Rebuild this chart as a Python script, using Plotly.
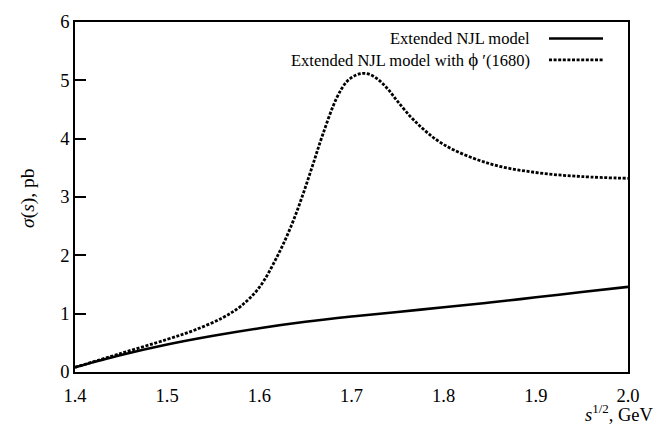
import plotly.graph_objects as go

# sqrt(s) grid in GeV and cross sections in pb
energy_base = [1.40, 1.45, 1.50, 1.55, 1.60, 1.65, 1.70, 1.75, 1.80, 1.85, 1.90, 1.95, 2.00]
sigma_base = [0.08, 0.29, 0.47, 0.62, 0.75, 0.86, 0.95, 1.03, 1.11, 1.19, 1.28, 1.37, 1.46]

energy_phi = [1.40, 1.45, 1.50, 1.53, 1.56, 1.58, 1.60, 1.62, 1.635, 1.647, 1.658, 1.669,
              1.684, 1.695, 1.705, 1.712, 1.72, 1.73, 1.74, 1.75, 1.77, 1.80, 1.85, 1.90,
              1.95, 2.00]
sigma_phi = [0.08, 0.32, 0.56, 0.72, 0.93, 1.13, 1.45, 2.00, 2.52, 3.03, 3.55, 4.08,
             4.70, 4.98, 5.09, 5.12, 5.10, 5.00, 4.84, 4.64, 4.28, 3.90, 3.57, 3.42,
             3.35, 3.32]

legend_labels = ["Extended NJL model",
                 "Extended NJL model with <span style='font-size:19px'>ϕ</span> ′(1680)"]
x_ticks = [1.4, 1.5, 1.6, 1.7, 1.8, 1.9, 2.0]
y_ticks = [0, 1, 2, 3, 4, 5, 6]

FONT = "Liberation Serif"
DOTS = "3px,1.6px"

fig = go.Figure()
fig.add_trace(go.Scatter(x=energy_base, y=sigma_base, mode="lines",
                         line=dict(color="black", width=2.6, shape="spline"),
                         showlegend=False))
fig.add_trace(go.Scatter(x=energy_phi, y=sigma_phi, mode="lines",
                         line=dict(color="black", width=2.8, dash=DOTS, shape="spline"),
                         showlegend=False))

W, H = 667, 441
L, R, T, B = 75, 39, 12, 69
pw, ph = W - L - R, H - T - B

def px(xp):
    return (xp - L) / pw

def py(yp):
    return (H - B - yp) / ph

# legend keys: text right-aligned, line sample on the right
rows = [(29, "solid", legend_labels[0]), (51, DOTS, legend_labels[1])]
for yp, dash, label in rows:
    fig.add_annotation(x=px(532), y=py(yp), xref="paper", yref="paper", text=label,
                       showarrow=False, xanchor="right", yanchor="middle",
                       font=dict(family=FONT, size=16.5, color="black"))
    fig.add_shape(type="line", xref="paper", yref="paper",
                  x0=px(549), x1=px(603), y0=py(yp), y1=py(yp),
                  line=dict(color="black", width=2.6 if dash == "solid" else 2.8, dash=dash))

# axis titles
fig.add_annotation(x=px(656), y=py(414), xref="paper", yref="paper",
                   text="<i>s</i><sup>1/2</sup>, GeV", showarrow=False,
                   xanchor="right", yanchor="middle",
                   font=dict(family=FONT, size=18.5, color="black"))
fig.add_annotation(x=px(28), y=py(194), xref="paper", yref="paper",
                   text="<i>σ</i>(<i>s</i>), pb", showarrow=False, textangle=-90,
                   xanchor="center", yanchor="middle",
                   font=dict(family=FONT, size=19.5, color="black"))

fig.update_layout(
    width=W, height=H,
    margin=dict(l=L, r=R, t=T, b=B, pad=0),
    paper_bgcolor="white", plot_bgcolor="white",
    font=dict(family=FONT, size=18, color="black"),
    xaxis=dict(range=[1.4, 2.0], tickvals=x_ticks, ticktext=[f"{v:.1f}" for v in x_ticks],
               ticks="", showgrid=False, zeroline=False, showline=True, linecolor="black",
               linewidth=1.5, mirror=True, ticklabelstandoff=6,
               tickfont=dict(family=FONT, size=18.5)),
    yaxis=dict(range=[0, 6], tickvals=y_ticks, ticks="inside", ticklen=11, tickwidth=1.5,
               tickcolor="black", showgrid=False, zeroline=False, showline=True,
               linecolor="black", linewidth=1.5, mirror=True, ticklabelstandoff=0,
               tickfont=dict(family=FONT, size=18.5)),
)

fig.write_html("out.html")
